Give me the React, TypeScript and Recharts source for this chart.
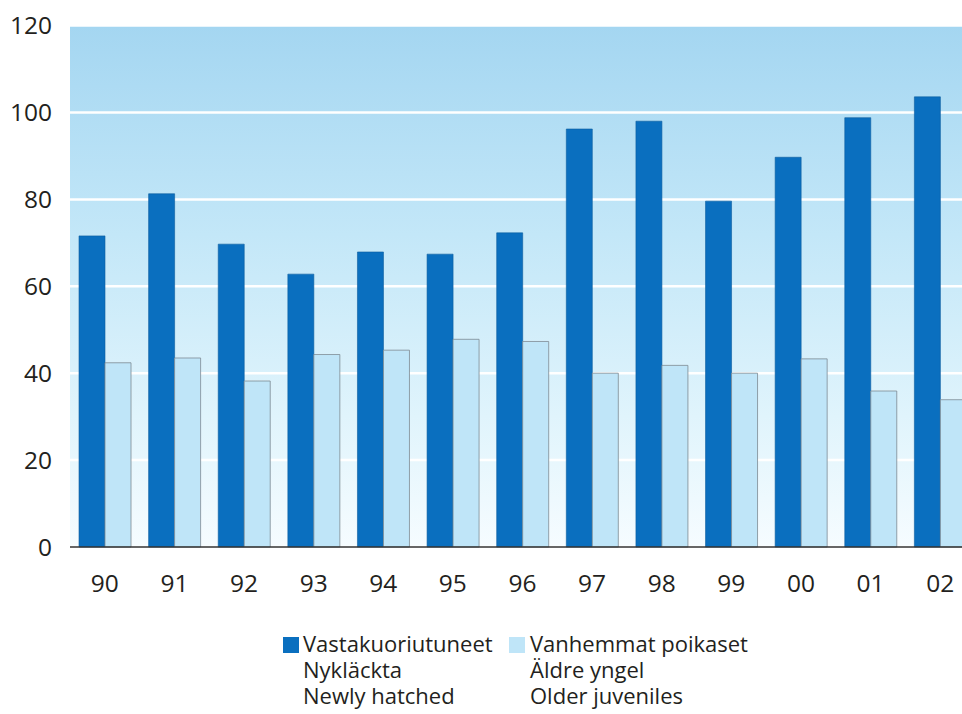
import { BarChart, Bar, XAxis, YAxis, CartesianGrid } from 'recharts';

const years = ['90', '91', '92', '93', '94', '95', '96', '97', '98', '99', '00', '01', '02'];
const newlyHatched = [71.6, 81.3, 69.7, 62.8, 67.9, 67.4, 72.3, 96.2, 98.0, 79.6, 89.7, 98.8, 103.6];
const olderJuveniles = [42.4, 43.5, 38.2, 44.3, 45.3, 47.8, 47.3, 40.0, 41.8, 40.0, 43.3, 35.9, 33.9];
const yTicks = [0, 20, 40, 60, 80, 100, 120];

const seriesLabels = [
  ['Vastakuoriutuneet', 'Nykläckta', 'Newly hatched'],
  ['Vanhemmat poikaset', 'Äldre yngel', 'Older juveniles'],
];

const DARK = '#0a6fbf';
const LIGHT = '#bfe5f8';
const TEXT = '#231f20';
const FONT = '"Open Sans", sans-serif';

const data = years.map((year, i) => ({
  year,
  newly: newlyHatched[i],
  older: olderJuveniles[i],
}));

const legendItems = [
  { color: DARK, lines: seriesLabels[0], square: 283, text: 303 },
  { color: LIGHT, lines: seriesLabels[1], square: 509, text: 530 },
];

export default function App() {
  return (
    <div
      style={{
        position: 'absolute',
        left: 0,
        top: 0,
        width: 962,
        height: 714,
        overflow: 'hidden',
        background: '#fff',
        fontFamily: FONT,
      }}
    >
      <BarChart
        width={1000}
        height={600}
        data={data}
        margin={{ top: 25.6, right: 25, bottom: 0, left: 0 }}
        barSize={26}
        barGap={0}
      >
        <defs>
          <linearGradient id="plotBg" x1="0" y1="0" x2="0" y2="1">
            <stop offset="0%" stopColor="#a4d6f1" />
            <stop offset="40%" stopColor="#c3e7f8" />
            <stop offset="75%" stopColor="#e0f4fc" />
            <stop offset="100%" stopColor="#f6fcff" />
          </linearGradient>
        </defs>
        <CartesianGrid
          vertical={false}
          stroke="#ffffff"
          strokeWidth={2.5}
          fill="url(#plotBg)"
          fillOpacity={1}
        />
        <XAxis
          dataKey="year"
          height={53}
          axisLine={{ stroke: '#333', strokeWidth: 1.5 }}
          tickLine={false}
          tickSize={0}
          tickMargin={28}
          tick={{ fill: TEXT, fontSize: 24.5, fontFamily: FONT }}
          interval={0}
        />
        <YAxis
          width={70}
          domain={[0, 120]}
          ticks={yTicks}
          axisLine={false}
          tickLine={false}
          tickSize={0}
          tickMargin={18}
          tick={{ fill: TEXT, fontSize: 24.5, fontFamily: FONT }}
        />
        <Bar dataKey="newly" fill={DARK} stroke="#0b5c9e" strokeWidth={0.6} isAnimationActive={false} />
        <Bar dataKey="older" fill={LIGHT} stroke="#7d8a93" strokeWidth={0.8} isAnimationActive={false} />
      </BarChart>

      {legendItems.map((item) => (
        <div key={item.square}>
          <div
            style={{
              position: 'absolute',
              left: item.square,
              top: 637,
              width: 16,
              height: 16,
              background: item.color,
            }}
          />
          <div
            style={{
              position: 'absolute',
              left: item.text,
              top: 630,
              fontSize: 22,
              lineHeight: '26px',
              color: TEXT,
              whiteSpace: 'nowrap',
            }}
          >
            {item.lines.map((line) => (
              <div key={line}>{line}</div>
            ))}
          </div>
        </div>
      ))}
    </div>
  );
}
